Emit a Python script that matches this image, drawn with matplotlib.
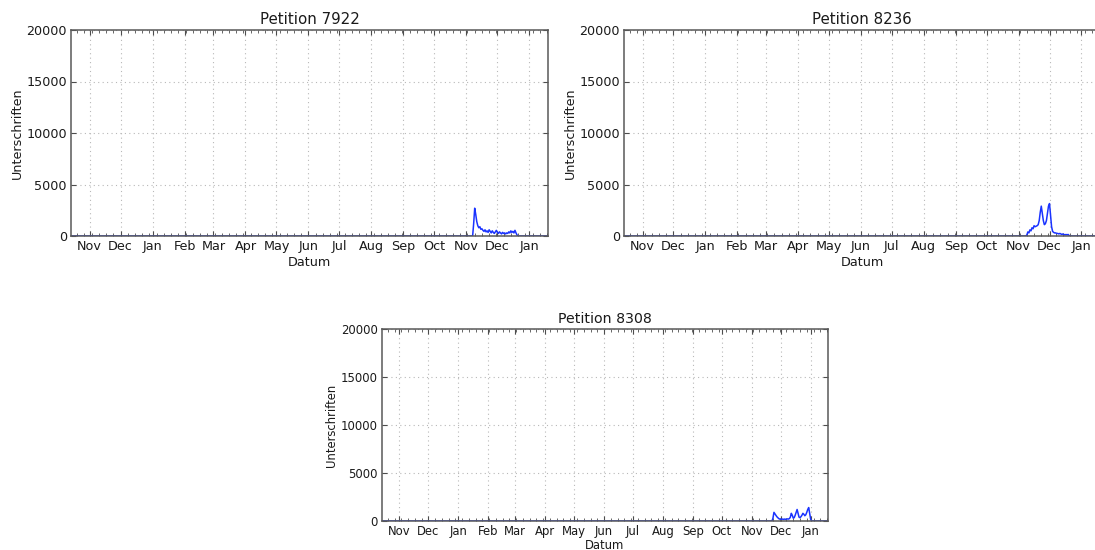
import numpy as np
import pandas as pd
import matplotlib
matplotlib.use('Agg')
import matplotlib.pyplot as plt
import matplotlib.dates as mdates

# full time span shown on every panel
day_first, day_last = '2014-10-14', '2016-01-19'

# signatures per day; zero outside the listed stretch
titles = ['Petition 7922', 'Petition 8236', 'Petition 8308']
starts = ['2015-11-07', '2015-11-08', '2015-11-22']
spikes = [
    [0, 1200, 2700, 2100, 1400, 1000, 800, 900, 650, 700, 550, 450, 600, 400,
     500, 350, 600, 450, 300, 500, 350, 250, 400, 550, 350, 250, 400, 300, 200,
     350, 250, 300, 200, 300, 250, 400, 300, 500, 350, 450, 300, 550, 300, 100, 0],
    [0, 100, 400, 300, 600, 500, 800, 700, 1000, 900, 950, 1000, 1100, 1500,
     2300, 2900, 2200, 1500, 1100, 1200, 1500, 2200, 2900, 3150, 2000, 900,
     450, 350, 300, 300, 250, 250, 200, 250, 200, 150, 200, 150, 100, 150, 100,
     150, 50, 0],
    [0, 300, 900, 750, 600, 450, 350, 250, 200, 200, 180, 200, 170, 200, 180,
     200, 220, 200, 250, 400, 800, 600, 300, 350, 600, 900, 1200, 800, 400,
     350, 450, 600, 800, 700, 550, 650, 900, 1200, 1400, 800, 200, 0],
]

# axes boxes in figure fractions (the right panel runs off the edge)
W, H = 1095, 550
boxes = [(71, 30, 477, 206), (624, 30, 476, 206), (382, 329, 446, 192)]
fsizes = [(9.2, 10.8), (9.2, 10.8), (8.4, 10.2)]
xpads = [2, 2, 0.5]

plt.rcParams['font.family'] = 'DejaVu Sans'
fig = plt.figure(figsize=(W / 100, H / 100), dpi=100)

days = pd.date_range(day_first, day_last, freq='D')
for title, start, vals, (x0, y0, w, h), (fs, tfs), xpad in zip(
        titles, starts, spikes, boxes, fsizes, xpads):
    ax = fig.add_axes([x0 / W, (H - y0 - h) / H, w / W, h / H])
    s = pd.Series(0.0, index=days)
    idx = pd.date_range(start, periods=len(vals), freq='D')
    s.loc[idx] = vals
    ax.plot(s.index, s.values, color='#1a33ff', lw=1.1)
    ax.set_xlim(pd.Timestamp(day_first), pd.Timestamp(day_last))
    ax.set_ylim(0, 20000)
    ax.set_yticks([0, 5000, 10000, 15000, 20000])
    ax.xaxis.set_major_locator(mdates.MonthLocator())
    ax.xaxis.set_major_formatter(mdates.DateFormatter('%b'))
    ax.xaxis.set_minor_locator(mdates.WeekdayLocator(byweekday=mdates.MO))
    ax.tick_params(which='both', direction='in', top=True, right=True,
                   labelsize=fs, colors='0.3', labelcolor='0.1', pad=3)
    ax.tick_params(which='major', length=3.5, width=0.8)
    ax.tick_params(which='minor', length=2, width=0.6)
    ax.grid(True, which='major', color='0.72', lw=0.8, dashes=(1, 3))
    for sp in ax.spines.values():
        sp.set_color('0.35')
        sp.set_linewidth(1.1)
    ax.set_title(title, fontsize=tfs, color='0.1', pad=4)
    ax.set_xlabel('Datum', fontsize=fs, color='0.1', labelpad=xpad)
    ax.set_ylabel('Unterschriften', fontsize=fs, color='0.1', labelpad=2)

fig.savefig('out.png', dpi=100)
